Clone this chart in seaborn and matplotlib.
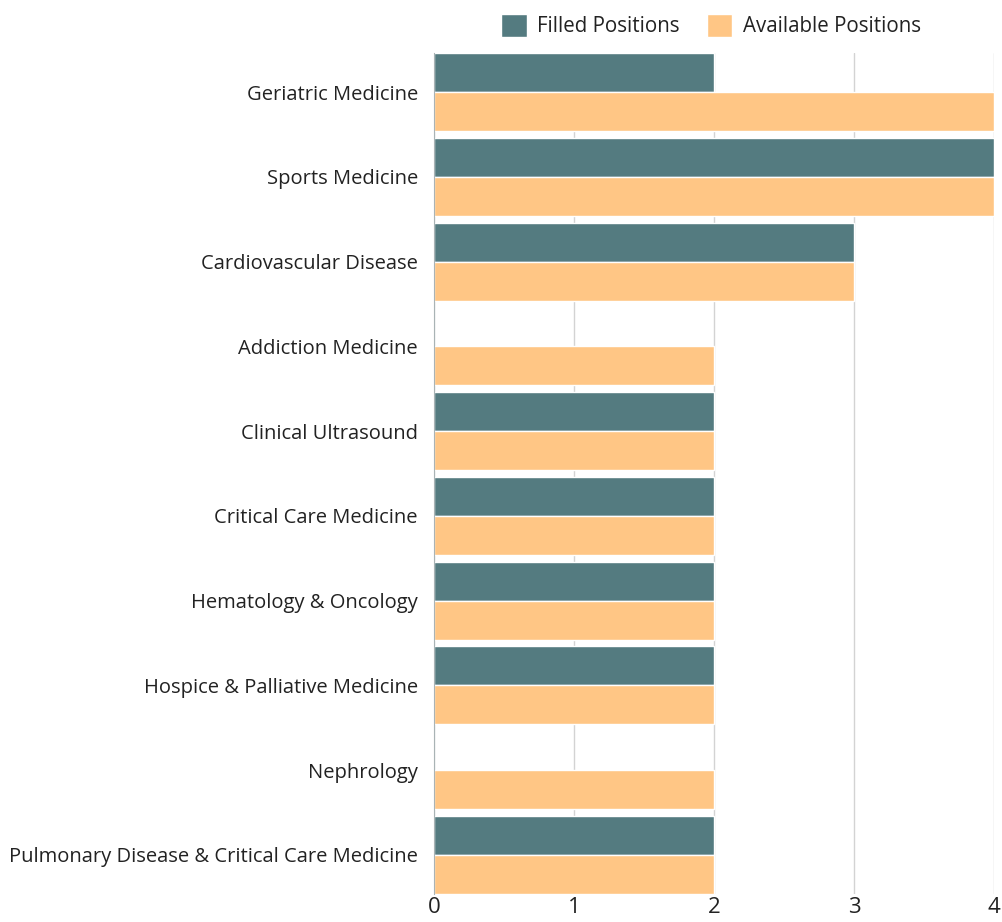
import matplotlib
matplotlib.use("Agg")
import matplotlib.pyplot as plt
import seaborn as sns
import pandas as pd

specialties = ["Geriatric Medicine", "Sports Medicine", "Cardiovascular Disease",
               "Addiction Medicine", "Clinical Ultrasound", "Critical Care Medicine",
               "Hematology & Oncology", "Hospice & Palliative Medicine", "Nephrology",
               "Pulmonary Disease & Critical Care Medicine"]
filled = [2, 4, 3, 0, 2, 2, 2, 2, 0, 2]
available = [4, 4, 3, 2, 2, 2, 2, 2, 2, 2]
series = ["Filled Positions", "Available Positions"]
colors = ["#547b80", "#ffc685"]

df = pd.DataFrame({"Specialty": specialties * 2,
                   "Series": [series[0]] * len(filled) + [series[1]] * len(available),
                   "Positions": filled + available})

sns.set_theme(style="white")
plt.rcParams["font.family"] = ["Open Sans", "DejaVu Sans"]

fig = plt.figure(figsize=(10.02, 9.22), dpi=100)
ax = fig.add_axes([0.433, 0.0304, 0.559, 0.912])
sns.barplot(data=df, y="Specialty", x="Positions", hue="Series", orient="h",
            palette=colors, width=0.92, edgecolor="white", linewidth=1.0,
            saturation=1, ax=ax, zorder=2)

ax.set_xlim(0, 4)
ax.set_ylim(9.46, -0.46)
ax.set_xticks([0, 1, 2, 3, 4])
ax.xaxis.grid(True, color="#d3d3d3", linewidth=1, zorder=0)
ax.set_axisbelow(True)
for s in ["top", "right", "bottom"]:
    ax.spines[s].set_visible(False)
ax.spines["left"].set_color("#a9b3b5")
ax.spines["left"].set_linewidth(0.8)
ax.set_xlabel("")
ax.set_ylabel("")
ax.tick_params(axis="y", labelsize=14.5, colors="#222222", length=0, pad=11.5)
ax.tick_params(axis="x", labelsize=16, colors="#222222", length=0, pad=2)

handles, labels = ax.get_legend_handles_labels()
ax.get_legend().remove()
leg = fig.legend(handles, labels, loc="center", bbox_to_anchor=(711 / 1002, 1 - 25.5 / 922),
                 ncol=2, frameon=False, fontsize=14.8, handlelength=1.25,
                 handleheight=1.4, columnspacing=1.3, handletextpad=0.5)
for t in leg.get_texts():
    t.set_color("#222222")

fig.savefig("out.png", dpi=100)
